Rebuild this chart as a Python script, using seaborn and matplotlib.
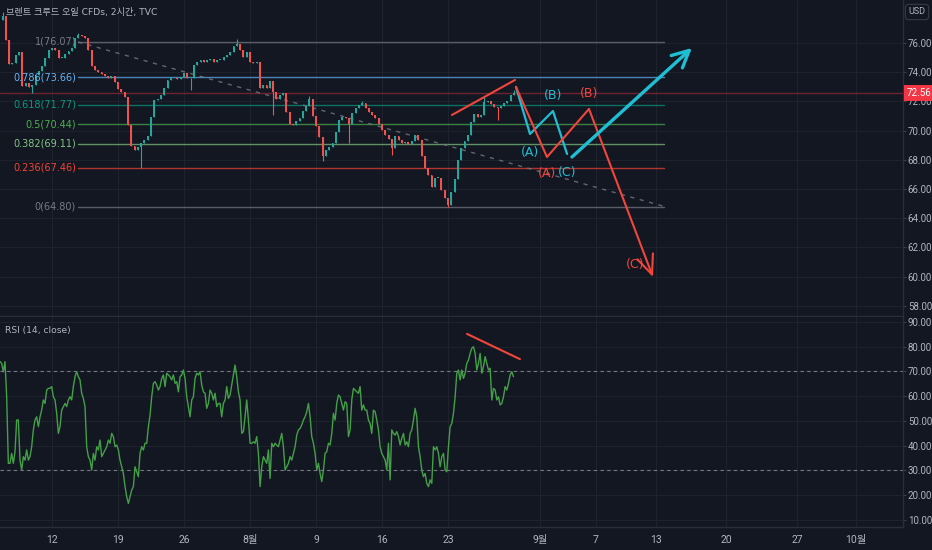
import numpy as np
import matplotlib
matplotlib.use("Agg")
import matplotlib.pyplot as plt
import seaborn as sns

# --- data (day 0 = Jul 12, trading-day units) ---
# closes, 4 bars per trading day, first bar at day -3.75
closes = [
    77.85, 76.21, 74.56, 74.63, 75.18, 75.38, 73.05, 73.26, 72.99, 73.12,
    73.81, 74.08, 74.42, 74.97, 75.52, 75.66, 75.52, 74.97, 74.97, 75.25,
    75.45, 75.66, 76.34, 76.55, 76.48, 76.34, 75.52, 74.42, 74.15, 74.01,
    73.88, 73.74, 73.60, 73.74, 73.33, 72.85, 72.64, 72.30, 70.38, 68.95,
    68.67, 68.88, 69.15, 69.36, 69.63, 70.93, 72.10, 72.16, 72.44, 72.92,
    73.47, 73.60, 73.60, 73.53, 73.67, 73.95, 73.60, 73.60, 74.49, 74.70,
    74.84, 74.70, 74.84, 74.90, 74.70, 74.84, 74.84, 75.04, 75.18, 75.38,
    75.79, 75.93, 75.52, 75.04, 75.38, 74.70, 74.63, 74.70, 72.92, 73.12,
    72.92, 73.40, 72.64, 72.16, 72.44, 72.58, 71.27, 70.45, 70.38, 70.66,
    70.86, 71.34, 71.68, 72.16, 71.00, 70.32, 69.56, 68.26, 68.67, 68.88,
    69.15, 69.90, 70.73, 70.93, 70.86, 70.45, 71.21, 71.55, 71.75, 71.89,
    71.55, 71.27, 71.07, 70.86, 70.45, 70.04, 69.70, 69.42, 68.81, 69.63,
    69.36, 69.15, 69.22, 69.08, 69.29, 69.70, 69.36, 68.26, 67.44, 66.96,
    66.14, 66.75, 66.75, 65.93, 65.38, 64.90, 65.79, 66.68, 67.99, 68.81,
    69.29, 69.70, 70.59, 71.14, 70.93, 71.07, 71.96, 72.03, 71.82, 71.62,
    71.55, 71.68, 71.89, 72.03, 72.44, 72.56]
first_open = 77.60
# notable wicks (bar index -> price)
wick_highs = {0: 78.10, 23: 76.70, 71: 76.25, 93: 72.40, 109: 72.05, 146: 72.30, 155: 72.75}
wick_lows = {9: 72.60, 42: 67.46, 57: 72.80, 82: 71.07, 97: 67.95, 105: 69.15,
             118: 68.30, 135: 64.80, 150: 70.75}

# RSI(14), one value every 0.1263 day from day -3.94
rsi = [
    74.0, 73.3, 69.9, 74.0, 59.8, 32.9, 32.9, 36.9, 32.9, 37.6,
    50.4, 50.4, 34.2, 30.2, 35.6, 34.2, 38.3, 34.2, 35.6, 39.6,
    46.4, 50.4, 51.7, 47.7, 51.7, 54.4, 58.5, 57.1, 62.5, 63.2,
    63.2, 63.9, 59.8, 58.5, 53.1, 45.0, 47.7, 54.4, 55.8, 57.1,
    55.8, 58.5, 59.8, 58.5, 63.9, 67.9, 69.9, 67.9, 66.6, 61.2,
    59.1, 55.8, 39.6, 35.6, 34.2, 30.2, 36.9, 34.2, 39.6, 38.3,
    42.3, 35.6, 36.9, 38.3, 39.6, 42.3, 41.0, 45.0, 43.7, 39.6,
    40.3, 38.3, 34.2, 31.5, 28.8, 23.5, 19.4, 16.7, 19.4, 22.1,
    23.5, 31.5, 29.5, 27.5, 36.9, 39.6, 38.3, 41.0, 41.0, 47.7,
    52.4, 59.8, 65.2, 65.9, 64.5, 62.5, 63.9, 67.2, 68.6, 63.9,
    69.3, 68.6, 67.9, 66.6, 68.6, 65.2, 65.9, 61.8, 67.9, 68.6,
    70.6, 67.2, 59.8, 55.8, 51.7, 58.5, 59.8, 67.2, 69.3, 68.6,
    69.9, 64.5, 61.8, 61.2, 55.1, 57.1, 62.5, 61.2, 58.5, 61.2,
    55.8, 57.1, 57.1, 51.7, 57.1, 58.5, 63.9, 59.1, 60.5, 64.5,
    68.6, 72.6, 67.9, 61.8, 58.5, 45.0, 45.7, 51.7, 58.5, 50.4,
    41.0, 41.0, 41.6, 41.0, 43.7, 36.9, 23.5, 31.5, 35.6, 34.2,
    32.9, 38.3, 26.8, 41.0, 39.6, 41.0, 40.3, 39.6, 42.3, 45.0,
    39.6, 30.2, 31.5, 32.9, 35.6, 34.2, 36.9, 39.6, 44.3, 46.4,
    47.0, 48.4, 50.4, 51.7, 53.8, 57.1, 51.7, 43.7, 41.0, 36.9, 30.2, 32.9,
    28.8, 25.5, 30.2, 36.9, 37.6, 41.0, 40.3, 45.0, 53.1, 50.4,
    57.1, 60.5, 59.8, 57.1, 54.4, 57.8, 57.1, 43.7, 46.4, 58.5,
    63.2, 62.5, 61.8, 61.2, 63.9, 54.4, 56.5, 54.4, 54.4, 50.4,
    49.0, 45.0, 54.4, 53.8, 50.4, 46.4, 39.6, 36.9, 35.6, 34.2,
    30.2, 41.0, 26.2, 46.4, 45.0, 44.3, 45.7, 43.7, 40.3, 43.0,
    45.0, 40.3, 41.6, 39.6, 45.0, 46.4, 50.4, 55.1, 51.7, 39.6,
    35.6, 30.2, 27.5, 28.8, 24.8, 23.5, 26.2, 24.8, 39.6, 38.3,
    39.6, 36.9, 31.5, 35.6, 36.9, 30.2, 29.5, 39.6, 47.7, 49.0,
    53.1, 59.8, 69.3, 70.6, 66.6, 70.6, 67.2, 69.3, 73.3, 74.6,
    77.3, 79.4, 80.0, 77.3, 70.6, 73.3, 77.3, 69.3, 72.0, 76.0,
    73.3, 70.6, 71.3, 58.5, 63.2, 62.5, 58.5, 59.8, 56.5, 57.1,
    59.8, 63.9, 62.5, 65.2, 68.6, 69.9, 67.9]

fib_levels = [1, 0.786, 0.618, 0.5, 0.382, 0.236, 0]
fib_prices = [76.07, 73.66, 71.77, 70.44, 69.11, 67.46, 64.80]
fib_colors = ["#787b86", "#64b5f6", "#089981", "#4caf50", "#81c784", "#f44336", "#787b86"]
fib_start, fib_end = 1.97, 46.4
last_price = 72.56

# drawings
cyan_wave_x = [35.15, 36.21, 37.95, 39.02]
cyan_wave_y = [72.99, 69.77, 71.34, 68.40]
cyan_arrow_x = [39.39, 48.48]
cyan_arrow_y = [68.19, 75.66]
red_wave_x = [35.15, 37.50, 40.68, 45.53]
red_wave_y = [72.99, 68.19, 71.48, 59.97]
price_div_x, price_div_y = [30.30, 35.08], [71.07, 73.47]
rsi_div_x, rsi_div_y = [31.44, 35.45], [85.2, 75.0]
cyan_labels = [("(B)", 37.95, 72.37), ("(A)", 36.21, 68.53), ("(C)", 39.02, 67.16)]
red_labels = [("(A)", 37.50, 67.03), ("(B)", 40.68, 72.51), ("(C)", 44.15, 60.85)]

tick_pos = [0, 5, 10, 15, 20, 25, 30, 36.97, 41.21, 45.76, 51.06, 56.44, 60.91]
tick_labels = ["12", "19", "26", "8월", "9", "16", "23", "9월", "7", "13", "20", "27", "10월"]

# --- style ---
bg = "#131722"
grid_c = "#1e222d"
txt_c = "#b2b5be"
up_c, dn_c = "#26a69a", "#ef5350"
cyan, red = "#1fbfd3", "#f0463c"

sns.set_theme(style="dark", rc={"axes.facecolor": bg, "figure.facecolor": bg,
                                "savefig.facecolor": bg})
plt.rcParams['font.family'] = ['DejaVu Sans', 'Noto Sans CJK KR']
axis_font = ["Roboto", "Noto Sans CJK KR"]

fig = plt.figure(figsize=(9.32, 5.5), dpi=100)
ax = fig.add_axes([0, 1 - 316 / 550, 903 / 932, 316 / 550])
ax2 = fig.add_axes([0, 23 / 550, 903 / 932, 210 / 550], sharex=ax)

xlim = (-3.94, 64.47)

for a in (ax, ax2):
    a.set_facecolor(bg)
    a.yaxis.tick_right()
    a.tick_params(axis="y", labelsize=7, colors=txt_c, length=2, width=0.8, pad=1.5,
                  color="#3a3e4a")
    for s in ("top", "left"):
        a.spines[s].set_visible(False)
    for s in ("right", "bottom"):
        a.spines[s].set_color("#2a2e39")
        a.spines[s].set_linewidth(1)
    a.grid(False)
    for t in tick_pos:
        a.axvline(t, color=grid_c, lw=0.8, zorder=0)

# price pane
ax.set_xlim(*xlim)
ax.set_ylim(57.30, 78.945)
yt = np.arange(58, 77, 2)
ax.set_yticks(yt)
ax.set_yticklabels([f"{v:.2f}" for v in yt], family=axis_font)
for v in yt:
    ax.axhline(v, color=grid_c, lw=0.8, zorder=0)
ax.tick_params(axis="x", bottom=False, labelbottom=False)

# candles
opens = [first_open] + closes[:-1]
bar_x = -3.75 + 0.25 * np.arange(len(closes))
for i, (x, o, c) in enumerate(zip(bar_x, opens, closes)):
    col = up_c if c >= o else dn_c
    hi = max(wick_highs.get(i, max(o, c)), max(o, c))
    lo = min(wick_lows.get(i, min(o, c)), min(o, c))
    ax.vlines(x, lo, hi, color=col, lw=0.8, zorder=3)
    ax.bar(x, max(abs(c - o), 0.04), bottom=min(o, c), width=0.15, color=col,
           linewidth=0, zorder=3)

# fibonacci retracement
for lvl, p, col in zip(fib_levels, fib_prices, fib_colors):
    ax.plot([fib_start, fib_end], [p, p], color=col, lw=1, alpha=0.7, zorder=2)
    ax.text(fib_start - 0.15, p, f"{lvl}({p:.2f})", color=col, fontsize=7,
            ha="right", va="center", zorder=5)
ax.plot([fib_start, fib_end], [fib_prices[0], fib_prices[-1]], color="#787b86",
        lw=1, ls=(0, (3, 4)), alpha=0.8, zorder=2)

# last price line and tag
ax.axhline(last_price, color="#f23645", lw=1, alpha=0.4, zorder=1)
ax.annotate(f"{last_price:.2f}", xy=(1.0, last_price), xycoords=("axes fraction", "data"),
            xytext=(2.5, 0), textcoords="offset points", ha="left", va="center",
            fontsize=7, color="white", family=axis_font,
            bbox=dict(boxstyle="square,pad=0.3", fc="#f23645", ec="none"),
            annotation_clip=False, zorder=10)

# wave drawings
ax.plot(price_div_x, price_div_y, color=red, lw=1.5, zorder=6)
ax.plot(cyan_wave_x, cyan_wave_y, color=cyan, lw=1.6, zorder=6)
ax.plot(red_wave_x[:-1], red_wave_y[:-1], color=red, lw=1.5, zorder=6)
ax.annotate("", xy=(red_wave_x[-1], red_wave_y[-1]), xytext=(red_wave_x[-2], red_wave_y[-2]),
            arrowprops=dict(arrowstyle="->,head_length=0.7,head_width=0.3", color=red,
                            lw=1.5, shrinkA=0, shrinkB=0, mutation_scale=20), zorder=6)
ax.annotate("", xy=(cyan_arrow_x[1], cyan_arrow_y[1]), xytext=(cyan_arrow_x[0], cyan_arrow_y[0]),
            arrowprops=dict(arrowstyle="->,head_length=0.6,head_width=0.3", color=cyan,
                            lw=2.4, shrinkA=0, shrinkB=0, mutation_scale=20), zorder=6)
for s, x, y in cyan_labels:
    ax.text(x, y, s, color=cyan, fontsize=9, ha="center", va="center", zorder=7)
for s, x, y in red_labels:
    ax.text(x, y, s, color=red, fontsize=9, ha="center", va="center", zorder=7)

# RSI pane
rsi_x = -3.94 + 0.1263 * np.arange(len(rsi))
sns.lineplot(x=rsi_x, y=rsi, ax=ax2, color="#43a047", lw=1, estimator=None, sort=False,
             zorder=4)
ax2.set_ylim(7.17, 92.02)
ryt = np.arange(10, 91, 10)
ax2.set_yticks(ryt)
ax2.set_yticklabels([f"{v:.2f}" for v in ryt], family=axis_font)
for v in ryt:
    ax2.axhline(v, color=grid_c, lw=0.8, zorder=0)
for v in (70, 30):
    ax2.axhline(v, color="#787b86", lw=0.8, ls=(0, (3, 3)), zorder=2)
ax2.plot(rsi_div_x, rsi_div_y, color=red, lw=1.5, zorder=6)
ax2.set_xlim(*xlim)
ax2.set_xticks(tick_pos)
ax2.set_xticklabels(tick_labels, family=axis_font)
ax2.tick_params(axis="x", labelsize=7.5, colors=txt_c, length=0, pad=6)
ax2.set_xlabel("")
ax2.set_ylabel("")

# header texts
fig.text(6 / 932, 1 - 12 / 550, "브렌트 크루드 오일 CFDs, 2시간, TVC", color=txt_c,
         fontsize=6.6, va="center", ha="left")
fig.text(5 / 932, 1 - 331 / 550, "RSI (14, close)", color=txt_c, fontsize=6.6,
         va="center", ha="left")
fig.text(917 / 932, 1 - 12 / 550, "USD", color=txt_c, fontsize=6.5, va="center", ha="center",
         family=axis_font,
         bbox=dict(boxstyle="round,pad=0.35", fc=bg, ec="#363a45", lw=0.8))

fig.savefig("out.png", dpi=100)
